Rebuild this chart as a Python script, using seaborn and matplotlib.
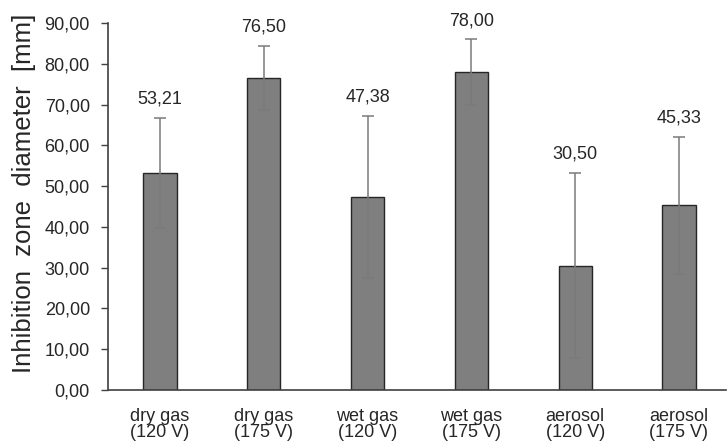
import matplotlib
matplotlib.use("Agg")
import matplotlib.pyplot as plt
from matplotlib.ticker import FuncFormatter, MultipleLocator
import seaborn as sns
import pandas as pd

# Mean inhibition zone diameter per treatment, with standard deviation
categories = ["dry gas\n(120 V)", "dry gas\n(175 V)", "wet gas\n(120 V)",
              "wet gas\n(175 V)", "aerosol\n(120 V)", "aerosol\n(175 V)"]
means = [53.21, 76.50, 47.38, 78.00, 30.50, 45.33]
errors = [13.5, 7.8, 19.9, 8.0, 22.7, 16.8]

df = pd.DataFrame({"group": categories, "diameter": means})

sns.set_theme(style="white")
plt.rcParams["font.family"] = ["Liberation Sans", "DejaVu Sans"]

fig = plt.figure(figsize=(7.27, 4.45), dpi=100)
W, H = 727, 445
ax = fig.add_axes([108 / W, (H - 390) / H, (726 - 108) / W, (390 - 23) / H])

sns.barplot(data=df, x="group", y="diameter", ax=ax, color="#7f7f7f",
            saturation=1, width=0.32, edgecolor="#262626", linewidth=1.0,
            errorbar=None)

xpos = [p.get_x() + p.get_width() / 2 for p in ax.patches]
ax.errorbar(xpos, means, yerr=errors, fmt="none", ecolor="#7a7a7a",
            elinewidth=1.1, capsize=4.5, capthick=1.1, zorder=3)

for x, m, e in zip(xpos, means, errors):
    ax.text(x, m + e + 4.6, f"{m:.2f}".replace(".", ","), ha="center",
            va="center", fontsize=13, color="#262626")

ax.set_xlim(-0.5, 5.453)
ax.set_ylim(0, 90)
ax.yaxis.set_major_locator(MultipleLocator(10))
ax.yaxis.set_major_formatter(FuncFormatter(lambda v, _: f"{v:.2f}".replace(".", ",")))

ax.set_xlabel("")
ax.set_ylabel("Inhibition  zone  diameter  [mm]", fontsize=18.5, color="#262626",
              va="center")
ax.yaxis.set_label_coords(-84 / 618, 0.535)

for side in ["top", "right"]:
    ax.spines[side].set_visible(False)
for side in ["left", "bottom"]:
    ax.spines[side].set_color("#404040")
    ax.spines[side].set_linewidth(1.2)

ax.tick_params(axis="y", which="major", left=True, length=5, width=1.0,
               color="#404040", labelsize=13, labelcolor="#262626", pad=8)
ax.tick_params(axis="x", which="major", bottom=False, labelsize=13,
               labelcolor="#262626", pad=7)
for lbl in ax.get_xticklabels():
    lbl.set_linespacing(0.95)

fig.savefig("out.png", dpi=100)
